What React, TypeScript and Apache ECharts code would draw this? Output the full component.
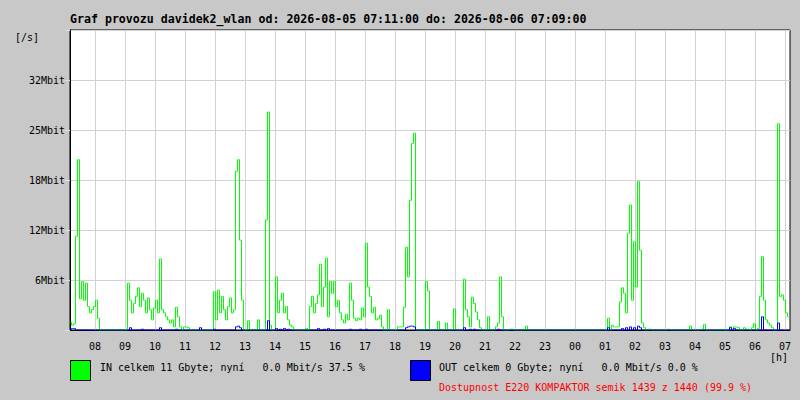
import { useEffect, useRef } from "react";
import * as echarts from "echarts";

const TITLE = "Graf provozu davidek2_wlan od: 2026-08-05 07:11:00 do: 2026-08-06 07:09:00";
const Y_UNIT = "[/s]";
const X_UNIT = "[h]";
const LEGEND_IN = "IN celkem 11 Gbyte; nyní   0.0 Mbit/s 37.5 %";
const LEGEND_OUT = "OUT celkem 0 Gbyte; nyní   0.0 Mbit/s 0.0 %";
const AVAILABILITY = "Dostupnost E220 KOMPAKTOR semik 1439 z 1440 (99.9 %)";

// y ticks (Mbit/s), one grid step = 6.4
const Y_STEP = 6.4;
const Y_MAX = 38.4;
const yTickLabels = ["", "6Mbit", "12Mbit", "18Mbit", "25Mbit", "32Mbit", ""];

// x axis in minutes since 07:00 of the first day
const AXIS_MIN = 10; // 07:10
const AXIS_MAX = 1450; // 07:10 next day
const FIRST_SAMPLE = 11; // 07:11
const SAMPLE_STEP = 4; // minutes between samples
const xTickMinutes = [60, 120, 180, 240, 300, 360, 420, 480, 540, 600, 660, 720, 780, 840, 900, 960, 1020, 1080, 1140, 1200, 1260, 1320, 1380, 1440];
const xTickLabels = ["08", "09", "10", "11", "12", "13", "14", "15", "16", "17", "18", "19", "20", "21", "22", "23", "00", "01", "02", "03", "04", "05", "06", "07"];

// IN traffic, Mbit/s
const inValues = [
  1.0, 0.6, 0.8, 12.0, 21.8, 4.0, 6.2, 3.8, 6.0, 3.0, 2.2, 2.6, 3.0, 3.8, 1.5, 0, 0, 0, 0, 0,
  0, 0, 0, 0, 0, 0, 0, 0, 0, 6.0, 3.8, 2.2, 3.4, 4.3, 5.4, 3.0, 4.7, 3.8, 2.2, 4.1,
  2.6, 1.3, 2.8, 3.8, 2.2, 9.1, 2.6, 2.2, 1.7, 1.3, 0.9, 1.3, 0.4, 2.9, 1.7, 0.4, 0, 0.4, 0.4, 0.3,
  0, 0, 0, 0, 0, 0, 0, 0, 0, 0, 0, 0, 4.9, 1.3, 5.1, 2.2, 4.3, 2.6, 1.3, 3.0,
  4.1, 2.2, 2.6, 20.3, 21.8, 11.5, 3.8, 0, 0, 1.2, 0, 0, 0, 0, 1.3, 0, 0, 0, 14.1, 27.9,
  0.6, 0, 0, 6.8, 2.2, 3.8, 4.7, 2.2, 3.0, 1.3, 0.6, 0.4, 0, 0, 0, 0, 0, 0, 0.2, 0,
  3.0, 4.3, 2.2, 3.4, 4.5, 8.4, 3.0, 5.5, 9.2, 1.7, 6.2, 4.7, 6.2, 3.0, 3.8, 2.2, 1.3, 0.9, 2.0, 1.3,
  6.0, 3.8, 1.5, 1.2, 1.5, 1.3, 2.8, 1.7, 11.1, 5.5, 4.3, 2.2, 2.9, 1.3, 1.5, 1.9, 0.4, 0, 0, 2.6,
  0, 0, 0, 0, 0.4, 0.4, 0.4, 2.9, 10.6, 6.8, 16.6, 23.9, 25.2, 0, 0, 0, 0, 0, 6.2, 5.0,
  0, 0, 0, 0, 1.1, 0, 0, 0, 0.9, 0, 0, 0, 2.7, 0, 0, 0, 0, 6.5, 2.6, 1.7,
  0.4, 4.2, 3.4, 2.3, 1.3, 0.3, 0, 0, 0, 1.7, 0, 0, 0, 0.4, 0.9, 6.8, 1.7, 0, 0, 0,
  0.1, 0.1, 0, 0, 0, 0, 0, 0, 0.5, 0, 0, 0, 0, 0, 0, 0, 0, 0, 0, 0,
  0, 0, 0, 0, 0, 0, 0, 0, 0, 0, 0, 0, 0, 0, 0, 0, 0, 0, 0, 0,
  0, 0, 0, 0, 0, 0, 0, 0, 0, 1.5, 0, 0.6, 0.4, 0.4, 0.4, 3.6, 5.4, 4.7, 2.2, 12.4,
  16.0, 3.8, 11.3, 5.5, 19.0, 10.2, 0.9, 0.3, 0, 0.1, 0.1, 0, 0, 0, 0, 0, 0, 0, 0, 0.1,
  0, 0, 0, 0, 0, 0, 0, 0, 0, 0, 0.5, 0, 0, 0, 0, 0, 0.1, 0.7, 0, 0,
  0, 0, 0, 0, 0, 0, 0, 0, 0, 0, 0.4, 0.1, 0.4, 0.4, 0.3, 0, 0, 0.3, 0.1, 0.1,
  0, 0.3, 0.8, 0, 0.2, 4.3, 9.4, 3.8, 1.3, 0.9, 0.6, 0.3, 0, 0, 26.4, 4.3, 4.5, 3.8, 2.2, 1.7,
];

// OUT traffic, Mbit/s
const outValues = [
  0.1, 0.2, 0.2, 0, 0, 0, 0, 0, 0, 0, 0, 0, 0, 0, 0, 0, 0, 0, 0, 0,
  0, 0, 0, 0, 0, 0, 0, 0, 0, 0, 0.3, 0, 0, 0, 0, 0, 0.1, 0, 0, 0,
  0, 0, 0, 0, 0, 0.3, 0, 0, 0, 0, 0, 0, 0, 0.1, 0, 0, 0, 0, 0, 0,
  0, 0, 0, 0, 0, 0.3, 0, 0, 0, 0, 0, 0, 0.1, 0, 0, 0, 0, 0, 0, 0,
  0, 0, 0, 0.4, 0.5, 0.3, 0, 0, 0, 0, 0, 0, 0, 0, 0, 0, 0, 0, 0, 1.2,
  0, 0, 0, 0.2, 0, 0.1, 0, 0.2, 0, 0.1, 0, 0, 0, 0, 0, 0, 0, 0, 0, 0,
  0, 0, 0, 0, 0.2, 0, 0, 0.1, 0, 0.2, 0, 0, 0, 0, 0, 0, 0, 0, 0, 0,
  0.1, 0, 0, 0, 0, 0.1, 0, 0, 0.1, 0, 0, 0, 0, 0, 0, 0, 0, 0, 0, 0,
  0, 0, 0, 0, 0, 0, 0, 0, 0.3, 0.4, 0.5, 0.5, 0.4, 0, 0, 0, 0, 0, 0, 0,
  0, 0, 0, 0, 0, 0, 0, 0, 0, 0, 0, 0, 0, 0, 0, 0, 0, 0.3, 0, 0,
  0.1, 0, 0.1, 0, 0, 0, 0, 0, 0, 0, 0, 0, 0, 0, 0.1, 0, 0, 0, 0, 0,
  0, 0, 0, 0, 0, 0, 0, 0, 0, 0, 0, 0, 0, 0, 0, 0, 0, 0, 0, 0,
  0, 0, 0, 0, 0, 0, 0, 0, 0, 0, 0, 0, 0, 0, 0, 0, 0, 0, 0, 0,
  0, 0, 0, 0, 0, 0, 0, 0, 0, 0.3, 0, 0, 0, 0, 0, 0, 0.2, 0, 0.3, 0,
  0.4, 0, 0.3, 0, 0.5, 0.3, 0, 0, 0, 0, 0, 0, 0, 0, 0, 0, 0, 0, 0, 0,
  0, 0, 0, 0, 0, 0, 0, 0, 0, 0, 0, 0, 0, 0, 0, 0, 0, 0, 0, 0,
  0, 0, 0, 0, 0, 0, 0, 0, 0, 0, 0.3, 0, 0.2, 0, 0, 0, 0, 0, 0, 0,
  0, 0, 0, 0, 0, 0, 1.7, 0, 0, 0, 0, 0, 0, 0, 0.9, 0, 0, 0, 0, 0,
];

const MONO = '"DejaVu Sans Mono", "Liberation Mono", monospace';
const BG = "#c8c8c8";
const GRID = "#d2d2d2";

function toSeries(values: number[]) {
  return values.map((v, i) => [FIRST_SAMPLE + i * SAMPLE_STEP, v]);
}

export default function App() {
  const ref = useRef<HTMLDivElement>(null);

  useEffect(() => {
    if (!ref.current) return;
    const chart = echarts.init(ref.current, undefined, { renderer: "svg" });
    const textStyle = (fill: string) => ({
      font: `10px ${MONO}`,
      fill,
      verticalAlign: "middle",
      align: "left",
    });
    chart.setOption({
      animation: false,
      backgroundColor: BG,
      title: {
        text: TITLE,
        left: 70,
        top: 13,
        padding: 0,
        textStyle: {
          fontFamily: MONO,
          fontSize: 11.6,
          fontWeight: "bold",
          color: "#000",
          lineHeight: 12,
        },
      },
      grid: {
        left: 70,
        top: 30,
        width: 720,
        height: 300,
        show: true,
        backgroundColor: "#ffffff",
        borderColor: "#000000",
        borderWidth: 1,
        containLabel: false,
      },
      xAxis: {
        type: "value",
        min: AXIS_MIN,
        max: AXIS_MAX,
        axisLine: { show: true, lineStyle: { color: "#000", width: 1 } },
        axisTick: { show: false, customValues: xTickMinutes },
        axisLabel: {
          customValues: xTickMinutes,
          margin: 11,
          color: "#000",
          fontFamily: MONO,
          fontSize: 10,
          formatter: (v: number) => {
            const idx = xTickMinutes.indexOf(Math.round(v));
            return idx >= 0 ? xTickLabels[idx] : "";
          },
        },
        splitLine: { show: true, lineStyle: { color: GRID, width: 1 } },
      },
      yAxis: {
        type: "value",
        min: 0,
        max: Y_MAX,
        interval: Y_STEP,
        axisLine: { show: true, lineStyle: { color: "#000", width: 1 } },
        axisTick: { show: true, length: 5, lineStyle: { color: "#e0e0e0" } },
        axisLabel: {
          margin: 5,
          color: "#000",
          fontFamily: MONO,
          fontSize: 10,
          formatter: (v: number) => yTickLabels[Math.round(v / Y_STEP)] ?? "",
        },
        splitLine: { show: true, lineStyle: { color: GRID, width: 1 } },
      },
      series: [
        {
          name: "IN",
          type: "line",
          step: "middle",
          data: toSeries(inValues),
          showSymbol: false,
          symbol: "none",
          lineStyle: { color: "#00ff00", width: 1 },
          itemStyle: { color: "#00ff00" },
          silent: true,
          z: 2,
        },
        {
          name: "OUT",
          type: "line",
          step: "middle",
          data: toSeries(outValues),
          showSymbol: false,
          symbol: "none",
          lineStyle: { color: "#0000ff", width: 1 },
          itemStyle: { color: "#0000ff" },
          silent: true,
          z: 3,
        },
      ],
      graphic: [
        { type: "text", x: 15, y: 37, style: { text: Y_UNIT, ...textStyle("#000") } },
        { type: "text", x: 770, y: 357, style: { text: X_UNIT, ...textStyle("#000") } },
        {
          type: "rect",
          shape: { x: 70.5, y: 360.5, width: 20, height: 20 },
          style: { fill: "#00ff00", stroke: "#000", lineWidth: 1 },
        },
        { type: "text", x: 100, y: 367, style: { text: LEGEND_IN, ...textStyle("#000") } },
        {
          type: "rect",
          shape: { x: 410.5, y: 360.5, width: 20, height: 20 },
          style: { fill: "#0000ff", stroke: "#000", lineWidth: 1 },
        },
        { type: "text", x: 439, y: 367, style: { text: LEGEND_OUT, ...textStyle("#000") } },
        { type: "text", x: 439, y: 387, style: { text: AVAILABILITY, ...textStyle("#ff0000") } },
      ],
    });
    return () => chart.dispose();
  }, []);

  return (
    <div
      ref={ref}
      style={{ position: "fixed", left: 0, top: 0, width: 800, height: 400 }}
    />
  );
}
